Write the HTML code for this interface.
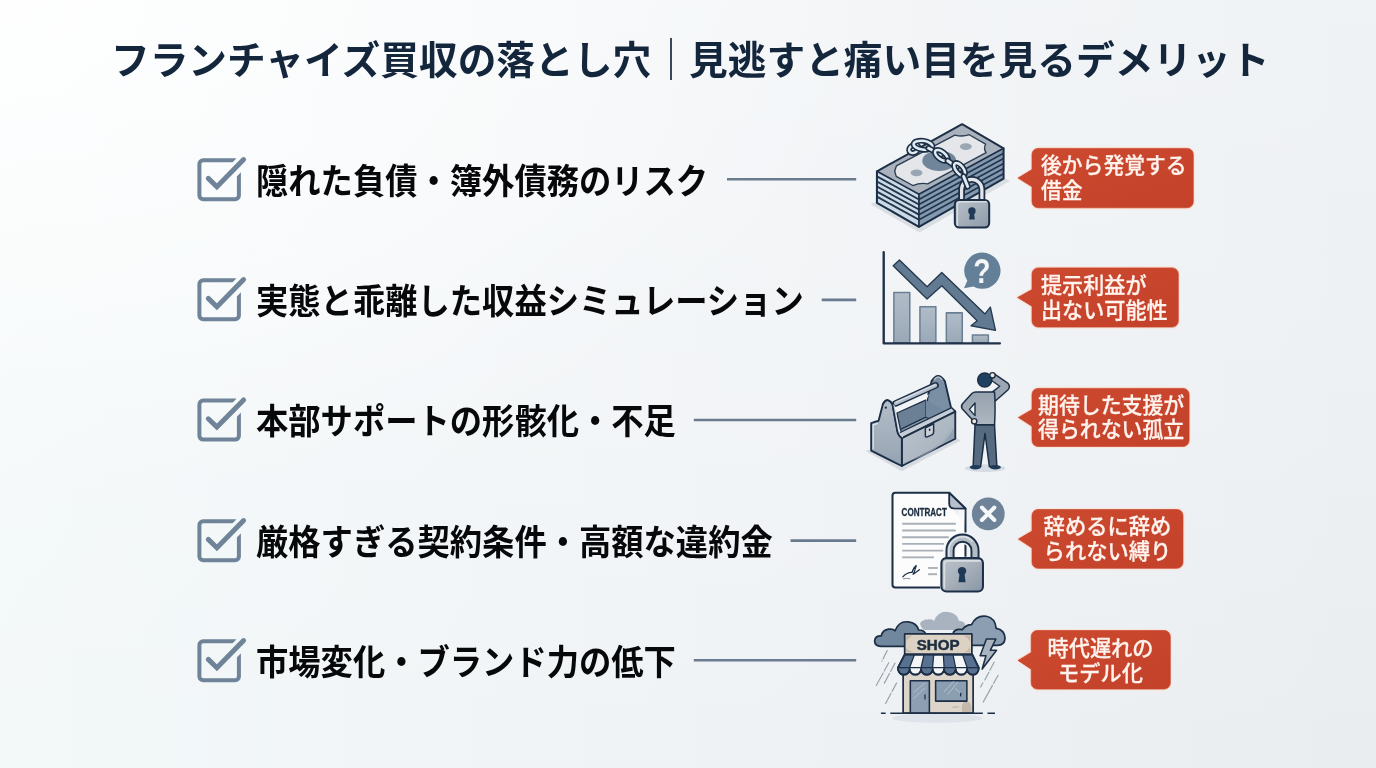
<!DOCTYPE html>
<html lang="ja">
<head>
<meta charset="utf-8">
<title>フランチャイズ買収の落とし穴｜見逃すと痛い目を見るデメリット</title>
<style>
*{margin:0;padding:0;box-sizing:border-box}
html,body{width:1376px;height:768px;overflow:hidden}
body{position:relative;font-family:"Liberation Sans","Noto Sans CJK JP",sans-serif;background:#f1f4f6;
 background-image:
  radial-gradient(ellipse 900px 520px at 0 0,rgba(255,255,255,.9) 0%,rgba(255,255,255,0) 100%),
  linear-gradient(to bottom,rgba(255,255,255,.3) 0%,rgba(255,255,255,.2) 50%,rgba(255,255,255,0) 100%),
  linear-gradient(to right,#f3f8f9 0%,#f1f5f7 30%,#eff2f5 55%,#e9edf0 100%);}
.title{will-change:transform;position:absolute;left:111.4px;top:32.5px;height:56px;line-height:56px;font-size:38.7px;font-weight:700;color:#14263c;white-space:nowrap;transform-origin:0 50%}
.title .bar{display:inline-block;font-size:42px;font-weight:400;line-height:56px;height:56px;color:#1c2c40;margin:0 -2.8px 0 -1.2px;position:relative;top:0px;vertical-align:top}
.row{position:absolute;left:0;width:1376px;height:0}
.txt{will-change:transform;position:absolute;left:256px;top:-26px;height:56px;line-height:56px;font-size:32.3px;font-weight:700;color:#07080a;white-space:nowrap;transform-origin:0 50%;transform:scaleY(1.08)}
.call{will-change:transform;position:absolute;left:1032px;color:#fff3ee;font-size:20.8px;font-weight:500;line-height:25px;white-space:nowrap;-webkit-text-stroke:.25px #fff3ee;transform-origin:0 50%;transform:scaleY(1.02)}
.call.c{text-align:center}
svg.art{will-change:transform;position:absolute;left:0;top:0;width:1376px;height:768px}
svg text{font-family:"Liberation Sans","Noto Sans CJK JP",sans-serif}
</style>
</head>
<body>
<svg class="art" viewBox="0 0 1376 768">
<defs>
 <mask id="cbm" maskUnits="userSpaceOnUse" x="0" y="0" width="60" height="60"><rect width="60" height="60" fill="#fff"/><path d="M18.8 28.8L27.3 36.8L58.4 5.6" fill="none" stroke="#000" stroke-width="13" stroke-linejoin="miter"/></mask>
 <g id="cb">
  <rect x="9.4" y="10.2" width="39.5" height="39" rx="3.8" fill="none" stroke="#6f8498" stroke-width="4" mask="url(#cbm)"/>
  <path d="M18.3 28.4L26.9 36.7L53.6 9.6" fill="none" stroke="#6f8498" stroke-width="5" stroke-linecap="round" stroke-linejoin="miter"/>
 </g>
 <linearGradient id="red" x1="0" y1="0" x2="1" y2="1">
  <stop offset="0" stop-color="#cc4a2f"/><stop offset="1" stop-color="#c4412a"/>
 </linearGradient>
</defs>
<!-- checkboxes -->
<use href="#cb" x="190" y="150"/>
<use href="#cb" x="190" y="270"/>
<use href="#cb" x="190" y="390.4"/>
<use href="#cb" x="190" y="511"/>
<use href="#cb" x="190" y="631"/>
<!-- connector lines -->
<g stroke="#687b8f" stroke-width="2.6">
 <path d="M727 179.2H856.2"/>
 <path d="M821.7 299.9H856.2"/>
 <path d="M693.8 420H856.2"/>
 <path d="M790.5 540.6H856.2"/>
 <path d="M693.8 660.3H856.2"/>
</g>
<!-- callout bubbles -->
<g fill="none" stroke="#f9e3da" stroke-width="3.2" stroke-linejoin="round" opacity=".85">
 <path d="M1038 148.4H1187.3a6 6 0 0 1 6 6V201.8a6 6 0 0 1-6 6H1038a6 6 0 0 1-6-6V186.8L1018 178L1032 169.6V154.4a6 6 0 0 1 6-6Z"/>
 <path d="M1038 267.9H1172.3a6 6 0 0 1 6 6V321.1a6 6 0 0 1-6 6H1038a6 6 0 0 1-6-6V306.3L1017.6 297.5L1032 289.5V273.9a6 6 0 0 1 6-6Z"/>
 <path d="M1038 388.4H1183.1a6 6 0 0 1 6 6V440.4a6 6 0 0 1-6 6H1038a6 6 0 0 1-6-6V426.3L1018.4 417.5L1032 409.5V394.4a6 6 0 0 1 6-6Z"/>
 <path d="M1038 509.5H1177a6 6 0 0 1 6 6V562.3a6 6 0 0 1-6 6H1038a6 6 0 0 1-6-6V548L1018.4 539.1L1032 531V515.5a6 6 0 0 1 6-6Z"/>
 <path d="M1037.2 630.5H1164.3a6 6 0 0 1 6 6V683.1a6 6 0 0 1-6 6H1037.2a6 6 0 0 1-6-6V669.2L1018 660.4L1031.2 652.4V636.5a6 6 0 0 1 6-6Z"/>
</g>
<g fill="url(#red)" stroke="#c8452c" stroke-width=".7" stroke-linejoin="round">
 <path d="M1038 148.4H1187.3a6 6 0 0 1 6 6V201.8a6 6 0 0 1-6 6H1038a6 6 0 0 1-6-6V186.8L1018 178L1032 169.6V154.4a6 6 0 0 1 6-6Z"/>
 <path d="M1038 267.9H1172.3a6 6 0 0 1 6 6V321.1a6 6 0 0 1-6 6H1038a6 6 0 0 1-6-6V306.3L1017.6 297.5L1032 289.5V273.9a6 6 0 0 1 6-6Z"/>
 <path d="M1038 388.4H1183.1a6 6 0 0 1 6 6V440.4a6 6 0 0 1-6 6H1038a6 6 0 0 1-6-6V426.3L1018.4 417.5L1032 409.5V394.4a6 6 0 0 1 6-6Z"/>
 <path d="M1038 509.5H1177a6 6 0 0 1 6 6V562.3a6 6 0 0 1-6 6H1038a6 6 0 0 1-6-6V548L1018.4 539.1L1032 531V515.5a6 6 0 0 1 6-6Z"/>
 <path d="M1037.2 630.5H1164.3a6 6 0 0 1 6 6V683.1a6 6 0 0 1-6 6H1037.2a6 6 0 0 1-6-6V669.2L1018 660.4L1031.2 652.4V636.5a6 6 0 0 1 6-6Z"/>
</g>
<!-- icon 1: money stack with chain + padlock -->
<g transform="translate(860,110) scale(0.16931)" stroke-linejoin="round" stroke-linecap="round">
 <defs>
  <clipPath id="i1l"><path d="M100 362L348 497V690L100 548Z"/></clipPath>
  <clipPath id="i1r"><path d="M348 497L848 226V405L348 690Z"/></clipPath>
  <linearGradient id="i1pad" x1="0" y1="0" x2="1" y2="1"><stop offset="0" stop-color="#b7bfc8"/><stop offset=".55" stop-color="#a3adb8"/><stop offset="1" stop-color="#8a99aa"/></linearGradient>
 </defs>
 <!-- ground shadow -->
 <path d="M62 556L350 724L886 420L848 398L350 680L100 540Z" fill="#d9dee3"/>
 <!-- left face -->
 <path d="M100 362L348 497V690L100 548Z" fill="#cbd8e5"/>
 <g clip-path="url(#i1l)" stroke="#22364d" stroke-width="11" fill="none">
  <path d="M100 392L348 528"/><path d="M100 422L348 558"/><path d="M100 452L348 588"/><path d="M100 482L348 618"/><path d="M100 512L348 648"/>
 </g>
 <!-- right face -->
 <path d="M348 497L848 226V405L348 690Z" fill="#8299af"/>
 <g clip-path="url(#i1r)" stroke="#22364d" stroke-width="10" fill="none">
  <path d="M348 528L848 256"/><path d="M348 558L848 286"/><path d="M348 588L848 316"/><path d="M348 618L848 346"/><path d="M348 648L848 376"/>
 </g>
 <!-- top face -->
 <path d="M100 362L603 84L848 226L348 497Z" fill="#a9b2bc"/>
 <!-- inner bill panel -->
 <path d="M205 362L215 330L560 148Q605 160 645 146L742 202Q728 228 745 252L400 436Q355 428 312 446L214 392Z" fill="#e4e6e9" stroke="#2a3d53" stroke-width="8"/>
 <ellipse cx="334" cy="371" rx="35" ry="20" fill="#9aa6b2"/>
 <ellipse cx="625" cy="216" rx="35" ry="20" fill="#9aa6b2"/>
 <ellipse cx="468" cy="300" rx="100" ry="60" fill="#71859a"/>
 <!-- outlines -->
 <path d="M100 362L603 84L848 226V405L348 690L100 548Z" fill="none" stroke="#1c2f46" stroke-width="12"/>
 <path d="M100 362L348 497L848 226M348 497V690" fill="none" stroke="#1c2f46" stroke-width="10"/>
 <!-- padlock shackle -->
 <path d="M600 535V470a60 60 0 0 1 120 0V535" fill="none" stroke="#1c2f46" stroke-width="40"/>
 <path d="M600 535V470a60 60 0 0 1 120 0V535" fill="none" stroke="#e3e7eb" stroke-width="19"/>
 <!-- chain -->
 <g fill="none">
  <ellipse cx="318" cy="230" rx="30" ry="22" transform="rotate(-30 318 230)" stroke="#1c2f46" stroke-width="34"/>
  <ellipse cx="318" cy="230" rx="30" ry="22" transform="rotate(-30 318 230)" stroke="#e1e9f1" stroke-width="15"/>
  <ellipse cx="372" cy="208" rx="56" ry="26" transform="rotate(8 372 208)" stroke="#1c2f46" stroke-width="34"/>
  <ellipse cx="372" cy="208" rx="56" ry="26" transform="rotate(8 372 208)" stroke="#e1e9f1" stroke-width="15"/>
  <path d="M405 226L478 262" stroke="#1c2f46" stroke-width="36"/>
  <path d="M405 226L478 262" stroke="#e1e9f1" stroke-width="17"/>
  <ellipse cx="480" cy="268" rx="44" ry="22" transform="rotate(38 480 268)" stroke="#1c2f46" stroke-width="34"/>
  <ellipse cx="480" cy="268" rx="44" ry="22" transform="rotate(38 480 268)" stroke="#e1e9f1" stroke-width="15"/>
  <path d="M518 300L572 338" stroke="#1c2f46" stroke-width="36"/>
  <path d="M518 300L572 338" stroke="#e1e9f1" stroke-width="17"/>
  <ellipse cx="588" cy="350" rx="44" ry="22" transform="rotate(52 588 350)" stroke="#1c2f46" stroke-width="34"/>
  <ellipse cx="588" cy="350" rx="44" ry="22" transform="rotate(52 588 350)" stroke="#e1e9f1" stroke-width="15"/>
  <path d="M612 392L636 452" stroke="#1c2f46" stroke-width="36"/>
  <path d="M612 392L636 452" stroke="#e1e9f1" stroke-width="17"/>
 </g>
 <!-- padlock body -->
 <rect x="560" y="531" width="203" height="163" rx="26" fill="url(#i1pad)" stroke="#1c2f46" stroke-width="12"/>
 <path d="M575 680V560a18 18 0 0 1 18-18H745" fill="none" stroke="#d8dde2" stroke-width="9"/>
 <circle cx="661" cy="596" r="22" fill="#1f3a57"/>
 <path d="M650 600H672L678 647H644Z" fill="#1f3a57"/>
</g>

<!-- icon 2: declining chart with question bubble -->
<g transform="translate(860,235) scale(0.16931)" stroke-linejoin="round">
 <defs>
  <linearGradient id="i2bar" x1="0" y1="0" x2="0" y2="1"><stop offset="0" stop-color="#b1bcc8"/><stop offset="1" stop-color="#9aa8b7"/></linearGradient>
 </defs>
 <!-- bars -->
 <g fill="url(#i2bar)" stroke="#6b7f94" stroke-width="9">
  <rect x="200" y="340" width="94" height="296"/>
  <rect x="354" y="424" width="94" height="212"/>
  <rect x="510" y="460" width="94" height="176"/>
  <rect x="664" y="590" width="94" height="46"/>
 </g>
 <!-- axes -->
 <path d="M140 102V640H826" fill="none" stroke="#1f3248" stroke-width="14" stroke-linecap="round"/>
 <!-- arrow -->
 <path d="M233 148L396 305L483 222L738 466L770 426L800 563L656 536L692 506L483 300L396 378L196 181Z" fill="#627a92" stroke="#26394f" stroke-width="8"/>
 <!-- question bubble -->
 <path d="M722 104a107 107 0 1 1 -52 200L614 314L634 270A107 107 0 0 1 722 104Z" fill="#647f98"/>
 <text transform="translate(720,286) scale(.8,1)" x="0" y="0" font-size="208" font-weight="700" fill="#f4f6f8" text-anchor="middle">?</text>
</g>

<!-- icon 3: empty toolbox + puzzled person -->
<g transform="translate(860,365) scale(0.14327)" stroke-linejoin="round" stroke-linecap="round">
 <defs>
  <linearGradient id="i3a" x1="0" y1="0" x2="0" y2="1"><stop offset="0" stop-color="#b4bec9"/><stop offset="1" stop-color="#95a3b2"/></linearGradient>
  <linearGradient id="i3b" x1="0" y1="0" x2="1" y2="1"><stop offset="0" stop-color="#bcc5ce"/><stop offset=".6" stop-color="#adb7c2"/><stop offset="1" stop-color="#8697a8"/></linearGradient>
 </defs>
 <!-- ground shadow -->
 <path d="M36 598L292 742L700 528L665 500L292 700L78 590Z" fill="#d6dbe1"/>
 <!-- far end panel (inner face) -->
 <path d="M470 232L500 112Q545 40 592 112L636 300L665 325L458 420Z" fill="#7b8fa4" stroke="#1c2f46" stroke-width="13"/>
 <path d="M572 100Q545 66 520 100" fill="none" stroke="#b9c5d1" stroke-width="10"/>
 <!-- light gap behind handle -->
 <path d="M262 312L480 205L462 250L262 340Z" fill="#f3f5f7"/>
 <!-- interior back wall + floor -->
 <path d="M258 335L458 245V365L282 450Z" fill="#6b7f95" stroke="#1c2f46" stroke-width="9"/>
 <path d="M458 245L610 330L458 400Z" fill="#7389a0"/>
 <path d="M282 450L458 365L530 395L300 500Z" fill="#7f93a8" stroke="#1c2f46" stroke-width="8"/>
 <!-- handle bar -->
 <path d="M248 268L528 142" fill="none" stroke="#1c2f46" stroke-width="46"/>
 <path d="M250 267L526 143" fill="none" stroke="#b4bfcb" stroke-width="26"/>
 <path d="M252 260L524 138" fill="none" stroke="#d9e0e7" stroke-width="9"/>
 <!-- rim band -->
 <path d="M266 478L640 298L665 325L292 510Z" fill="#c5cdd6" stroke="#1c2f46" stroke-width="9"/>
 <!-- long front face -->
 <path d="M292 510L665 325V515L292 705Z" fill="url(#i3b)" stroke="#1c2f46" stroke-width="13"/>
 <path d="M310 680Q560 620 655 440V510L310 690Z" fill="#8c9cad" opacity=".75"/>
 
 <!-- front end panel with tab -->
 <path d="M78 405L118 392Q128 395 132 380L160 272Q190 218 226 272L262 468Q272 500 292 510V705L78 598Z" fill="url(#i3a)" stroke="#1c2f46" stroke-width="13"/>
 <path d="M92 585V418L122 408" fill="none" stroke="#e4e9ee" stroke-width="8"/>
 <path d="M234 282L268 466Q276 490 294 500" fill="none" stroke="#cfd6de" stroke-width="14"/>
 <path d="M160 272Q190 218 226 272L262 468Q272 500 292 510" fill="none" stroke="#1c2f46" stroke-width="11"/>
 <circle cx="180" cy="298" r="8" fill="#1c2f46"/>
 <!-- latch -->
 <path d="M456 438L514 410V470Q514 482 502 488L470 502Q456 506 456 492Z" fill="#c9d0d8" stroke="#1c2f46" stroke-width="10"/>
 <ellipse cx="486" cy="452" rx="6" ry="9" fill="#1c2f46"/>
</g>
<g transform="translate(950,360) scale(0.15625)" stroke-linejoin="round" stroke-linecap="round">
 <defs>
  <linearGradient id="i3c" x1="0" y1="0" x2="0" y2="1"><stop offset="0" stop-color="#95a1ae"/><stop offset="1" stop-color="#adb7c1"/></linearGradient>
 </defs>
 <ellipse cx="225" cy="693" rx="130" ry="24" fill="#d5dbe2"/>
 <!-- legs -->
 <path d="M160 415H285L300 682H252L224 470L196 682H148Z" fill="#566a80" stroke="#1c2f46" stroke-width="9.5"/>
 <ellipse cx="162" cy="686" rx="36" ry="14" fill="#1f3a57"/>
 <ellipse cx="290" cy="686" rx="36" ry="14" fill="#1f3a57"/>
 <!-- raised arm -->
 <path d="M288 92L372 150Q388 168 372 190L290 262L262 212L318 168L262 128Z" fill="#9ca7b3" stroke="#1c2f46" stroke-width="9.5"/>
 <!-- torso + left arm -->
 <path d="M165 205H285Q292 300 285 415H160L152 392L78 312Q68 298 80 280L140 215Q150 205 165 205Z" fill="url(#i3c)" stroke="#1c2f46" stroke-width="9.5"/>
 <path d="M160 275L124 316L160 356Z" fill="#f0f3f5" stroke="#1c2f46" stroke-width="9"/>
 <circle cx="155" cy="392" r="17" fill="#f3e6dc" stroke="#1c2f46" stroke-width="9"/>
 <!-- head -->
 <circle cx="222" cy="128" r="45" fill="#1f4060" stroke="#1c2f46" stroke-width="9"/>
 <circle cx="272" cy="98" r="17" fill="#f3e6dc" stroke="#1c2f46" stroke-width="9"/>
</g>

<!-- icon 4: contract locked -->
<g transform="translate(880,480) scale(0.15625)" stroke-linejoin="round" stroke-linecap="round">
 <defs>
  <linearGradient id="i4pad" x1="0" y1="0" x2="1" y2="1"><stop offset="0" stop-color="#bcc3cb"/><stop offset=".5" stop-color="#a6afb9"/><stop offset="1" stop-color="#8796a6"/></linearGradient>
  <linearGradient id="i4sh" x1="0" y1="0" x2="1" y2="1"><stop offset="0" stop-color="#d9dde2"/><stop offset="1" stop-color="#fdfdfd" stop-opacity="0"/></linearGradient>
 </defs>
 <!-- page -->
 <path d="M98 82H443L547 183V670a18 18 0 0 1-18 18H98a18 18 0 0 1-18-18V100a18 18 0 0 1 18-18Z" fill="#fcfcfd" stroke="#1c2f46" stroke-width="13"/>
 <path d="M450 160L545 190V300Z" fill="url(#i4sh)"/>
 <path d="M443 82V152Q443 180 473 182L547 183Z" fill="#b7c0ca" stroke="#1c2f46" stroke-width="12"/>
 <text x="138" y="229" font-size="68" font-weight="700" fill="#1d2d40" stroke="#1d2d40" stroke-width="2" textLength="290" lengthAdjust="spacingAndGlyphs">CONTRACT</text>
 <g stroke="#a9afb6" stroke-width="12" fill="none" stroke-linecap="butt">
  <path d="M142 280H485"/><path d="M142 323H485"/><path d="M142 366H440"/><path d="M142 409H410"/><path d="M142 452H405"/><path d="M142 495H345"/>
  <path d="M308 563H370"/><path d="M308 603H365"/>
 </g>
 <path d="M146 620Q175 590 205 592Q215 560 232 548Q222 585 212 604Q230 590 252 574" fill="none" stroke="#1c2f46" stroke-width="8"/>
 <path d="M150 632Q170 626 192 632" fill="none" stroke="#7c8895" stroke-width="6"/>
 <!-- X badge -->
 <circle cx="693" cy="217" r="105" fill="#6f8398"/>
 <path d="M652 176L732 256M732 176L652 256" stroke="#f5f7f9" stroke-width="25" fill="none"/>
 <!-- padlock -->
 <path d="M448 505V452a80 80 0 0 1 160 0V505" fill="none" stroke="#f4f6f8" stroke-width="76"/>
 <rect x="384" y="491" width="284" height="232" rx="40" fill="#f4f6f8"/>
 <path d="M448 505V452a80 80 0 0 1 160 0V505" fill="none" stroke="#1c2f46" stroke-width="58"/>
 <path d="M448 505V452a80 80 0 0 1 160 0V505" fill="none" stroke="#b3bbc4" stroke-width="33"/>
 <path d="M440 505V452a88 88 0 0 1 150-62" fill="none" stroke="#dfe3e8" stroke-width="10"/>
 <rect x="393" y="500" width="266" height="214" rx="32" fill="url(#i4pad)" stroke="#1c2f46" stroke-width="13"/>
 <path d="M412 690V538a20 20 0 0 1 20-20H640" fill="none" stroke="#d9dee3" stroke-width="11"/>
 <circle cx="525" cy="583" r="27" fill="#1f3a57"/>
 <path d="M510 590H540L548 655H502Z" fill="#1f3a57"/>
</g>

<!-- icon 5: shop in storm -->
<g transform="translate(870,605) scale(0.15625)" stroke-linejoin="round" stroke-linecap="round">
 <!-- ground shadow -->
 <ellipse cx="430" cy="724" rx="290" ry="30" fill="#dfe4ea"/>
 <!-- back cloud -->
 <path d="M335 150Q300 110 350 95Q390 85 410 100Q440 35 500 45Q560 55 570 100Q620 105 605 140Q590 165 540 160H360Q340 160 335 150Z" fill="#a8b3bf"/>
 <!-- left cloud -->
 <path d="M70 265Q28 262 30 228Q34 196 72 198Q80 160 120 155Q150 152 160 165Q185 100 245 108Q300 115 312 160Q350 160 358 190L360 265Z" fill="#71879e" stroke="#1c2f46" stroke-width="11"/>
 <!-- right cloud -->
 <path d="M530 185Q540 150 590 158Q615 125 650 125Q680 62 745 72Q800 82 808 150Q862 160 864 212Q862 258 815 258H600Z" fill="#8c9eb1" stroke="#1c2f46" stroke-width="11"/>
 <!-- rain -->
 <g stroke="#99a2ac" stroke-width="7.5" fill="none" stroke-dasharray="60 14 200 0">
  <path d="M110 292L76 360"/><path d="M120 370L40 515"/><path d="M160 372L92 500"/><path d="M170 500L100 630"/>
  <path d="M795 365L735 480"/><path d="M820 450L725 620"/><path d="M722 498L708 525"/>
 </g>
 <!-- lightning -->
 <path d="M745 218H805L770 290H810L718 410L742 325H705Z" fill="#a9b4c0" stroke="#1c2f46" stroke-width="10"/>
 <!-- wall -->
 <rect x="212" y="430" width="448" height="262" fill="#ddd5c9" stroke="#1c2f46" stroke-width="11"/>
 <path d="M520 660Q545 635 575 655M600 620Q640 610 650 650V685H590Q580 650 600 620Z" fill="#c3b8ab" stroke="none"/>
 <!-- door -->
 <rect x="258" y="485" width="122" height="206" fill="#8e9fb3" stroke="#1c2f46" stroke-width="10"/>
 <path d="M280 560L350 500M278 600L352 530" stroke="#b4c0cd" stroke-width="6" fill="none"/>
 <path d="M352 575V602" stroke="#1c2f46" stroke-width="8" fill="none"/>
 <!-- window -->
 <rect x="420" y="485" width="200" height="130" fill="#8b9db1" stroke="#1c2f46" stroke-width="10"/>
 <path d="M475 555L535 490M500 570L560 495M545 535L575 560" stroke="#b9c4d0" stroke-width="6" fill="none"/>
 <path d="M580 565V582" stroke="#1c2f46" stroke-width="8" fill="none"/>
 <!-- awning -->
 <path d="M222 318H655L695 400V410a36.8 36 0 0 1 -73.6 0a36.8 36 0 0 1 -73.6 0a36.8 36 0 0 1 -73.6 0a36.8 36 0 0 1 -73.6 0a36.8 36 0 0 1 -73.6 0a36.8 36 0 0 1 -73.6 0a36.8 36 0 0 1 -73.6 0V400Z" fill="#f4f5f6" stroke="#1c2f46" stroke-width="11"/>
 <g fill="#587190" stroke="#1c2f46" stroke-width="8">
  <path d="M222 318H283.9L253.6 400V410a36.8 36 0 0 1 -73.6 0V400Z"/>
  <path d="M345.7 318H407.6L400.7 400V410a36.8 36 0 0 1 -73.6 0V400Z"/>
  <path d="M469.4 318H531.3L547.9 400V410a36.8 36 0 0 1 -73.6 0V400Z"/>
  <path d="M593.1 318H655L695 400V410a36.8 36 0 0 1 -73.6 0V400Z"/>
 </g>
 <path d="M180 400H695" stroke="#1c2f46" stroke-width="8" fill="none"/>
 <path d="M222 318H655L695 400V410a36.8 36 0 0 1 -73.6 0a36.8 36 0 0 1 -73.6 0a36.8 36 0 0 1 -73.6 0a36.8 36 0 0 1 -73.6 0a36.8 36 0 0 1 -73.6 0a36.8 36 0 0 1 -73.6 0a36.8 36 0 0 1 -73.6 0V400Z" fill="none" stroke="#1c2f46" stroke-width="11"/>
 <!-- sign -->
 <rect x="222" y="185" width="430" height="130" fill="#dcd2c4" stroke="#1c2f46" stroke-width="11"/>
 <path d="M232 195h40l-25 18l-15 22ZM642 195v40l-18-22l-25-18ZM232 303v-28l14 14l28 14ZM642 303h-42l26-14l16-22Z" fill="#bdb1a2" opacity=".8"/>
 <text x="299" y="286" font-size="90" font-weight="700" fill="#1d2d40" stroke="#1d2d40" stroke-width="3" textLength="274" lengthAdjust="spacingAndGlyphs">SHOP</text>
 <!-- ground -->
 <path d="M130 693H722M70 693H100M752 693H800" stroke="#1c2f46" stroke-width="9" fill="none" stroke-linecap="butt"/>
</g>

</svg>

<div class="title">フランチャイズ買収の落とし穴<span class="bar">｜</span>見逃すと痛い目を見るデメリット</div>

<div class="row" style="top:180px"><div class="txt">隠れた負債・簿外債務のリスク</div>
 <div class="call" style="top:-26.4px;left:1041.2px;line-height:24.8px">後から発覚する<br>借金</div></div>
<div class="row" style="top:300px"><div class="txt">実態と乖離した収益シミュレーション</div>
 <div class="call" style="top:-26.9px;left:1041.3px;font-size:21.1px;line-height:25.1px">提示利益が<br>出ない可能性</div></div>
<div class="row" style="top:420.4px"><div class="txt">本部サポートの形骸化・不足</div>
 <div class="call" style="top:-26.6px;left:1038.2px;font-size:20.9px;line-height:24.4px">期待した支援が<br>得られない孤立</div></div>
<div class="row" style="top:541px"><div class="txt">厳格すぎる契約条件・高額な違約金</div>
 <div class="call c" style="top:-26.2px;left:1031.5px;width:151px;font-size:21.3px;line-height:24.8px">辞めるに辞め<br>られない縛り</div></div>
<div class="row" style="top:661px"><div class="txt">市場変化・ブランド力の低下</div>
 <div class="call c" style="top:-25.2px;left:1031px;width:139px;font-size:21.2px;line-height:25.1px">時代遅れの<br>モデル化</div></div>
</body>
</html>
